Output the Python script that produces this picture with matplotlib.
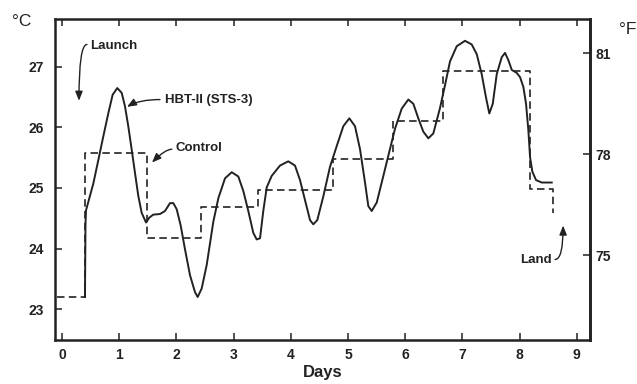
import matplotlib
matplotlib.use("Agg")
import matplotlib.pyplot as plt

# ---- data ----
hbt_days = [0.402, 0.411, 0.42, 0.547, 0.635, 0.722, 0.809, 0.886, 0.967, 1.044,
            1.101, 1.159, 1.219, 1.276, 1.334, 1.393, 1.469, 1.526, 1.596, 1.713,
            1.801, 1.888, 1.946, 2.005, 2.075, 2.150, 2.238, 2.325, 2.372, 2.442,
            2.530, 2.645, 2.733, 2.850, 2.967, 3.082, 3.170, 3.257, 3.344, 3.404,
            3.462, 3.519, 3.579, 3.666, 3.811, 3.956, 4.073, 4.161, 4.248, 4.336,
            4.393, 4.463, 4.568, 4.685, 4.802, 4.918, 5.023, 5.122, 5.210, 5.297,
            5.355, 5.414, 5.502, 5.589, 5.704, 5.822, 5.939, 6.054, 6.142, 6.229,
            6.316, 6.404, 6.491, 6.608, 6.696, 6.783, 6.900, 7.045, 7.162, 7.250,
            7.337, 7.413, 7.470, 7.530, 7.600, 7.687, 7.745, 7.803, 7.862, 7.949,
            8.007, 8.065, 8.112, 8.152, 8.182, 8.222, 8.287, 8.386, 8.561]
hbt_temp = [23.20, 24.40, 24.63, 25.07, 25.46, 25.85, 26.23, 26.54, 26.65, 26.57,
            26.35, 26.02, 25.63, 25.25, 24.87, 24.59, 24.43, 24.51, 24.56, 24.57,
            24.62, 24.75, 24.75, 24.65, 24.38, 23.99, 23.56, 23.28, 23.20, 23.34,
            23.73, 24.44, 24.83, 25.16, 25.26, 25.19, 24.95, 24.62, 24.26, 24.15,
            24.17, 24.62, 25.01, 25.20, 25.37, 25.44, 25.37, 25.13, 24.80, 24.47,
            24.40, 24.47, 24.86, 25.35, 25.69, 26.02, 26.15, 26.02, 25.64, 25.09,
            24.70, 24.62, 24.76, 25.09, 25.53, 25.98, 26.31, 26.46, 26.39, 26.15,
            25.93, 25.82, 25.90, 26.32, 26.70, 27.09, 27.34, 27.43, 27.37, 27.21,
            26.88, 26.49, 26.23, 26.39, 26.88, 27.16, 27.23, 27.11, 26.95, 26.90,
            26.83, 26.67, 26.39, 25.96, 25.51, 25.27, 25.13, 25.09, 25.09]

ctrl_days = [-0.08, 0.40, 0.40, 1.48, 1.48, 2.425, 2.425, 3.43, 3.43, 4.743,
             4.743, 5.79, 5.79, 6.655, 6.655, 8.18, 8.18, 8.59, 8.59]
ctrl_temp = [23.20, 23.20, 25.58, 25.58, 24.18, 24.18, 24.68, 24.68, 24.96, 24.96,
             25.48, 25.48, 26.10, 26.10, 26.93, 26.93, 24.99, 24.99, 24.58]

x_ticks = [0, 1, 2, 3, 4, 5, 6, 7, 8, 9]
c_ticks = [23, 24, 25, 26, 27]
f_ticks = [75, 78, 81]

INK = "#222222"
plt.rcParams['font.family'] = ['Liberation Sans', 'DejaVu Sans']

fig = plt.figure(figsize=(6.37, 3.84), dpi=100)
ax = fig.add_axes([55/637, 1 - 340/384, (590 - 55)/637, (340 - 19)/384])
ax.set_xlim(-0.122, 9.23)
ax.set_ylim(22.49, 27.79)

ax.plot(hbt_days, hbt_temp, color=INK, lw=1.4, solid_joinstyle='round')
ax.plot(ctrl_days, ctrl_temp, color=INK, lw=1.2, linestyle=(0, (4.5, 2.6)))

for s in ax.spines.values():
    s.set_linewidth(1.8)
    s.set_color(INK)

ax.set_xticks(x_ticks)
ax.set_yticks(c_ticks)
ax.tick_params(axis='x', direction='in', length=5, width=1.1, top=True,
               pad=6, labelsize=10, colors=INK)
ax.tick_params(axis='y', direction='in', length=5, width=1.1, pad=8,
               labelsize=10, colors=INK)
for lab in ax.get_xticklabels() + ax.get_yticklabels():
    lab.set_fontweight('bold')

sec = ax.secondary_yaxis('right', functions=(lambda c: c * 9 / 5 + 32,
                                             lambda f: (f - 32) * 5 / 9))
sec.set_yticks(f_ticks)
sec.tick_params(direction='in', length=5, width=1.1, pad=4, labelsize=10,
                colors=INK)
for lab in sec.get_yticklabels():
    lab.set_fontweight('bold')
sec.spines['right'].set_linewidth(1.8)

fig.text(22/637, 1 - 21/384, "°C", fontsize=12.5, ha='center', va='center', color=INK)
fig.text(628/637, 1 - 30/384, "°F", fontsize=12.5, ha='center', va='center', color=INK)
ax.set_xlabel("Days", fontsize=12, fontweight='bold', color=INK, labelpad=2)

tk = dict(fontsize=9.5, fontweight='bold', color=INK, va='center')
arr = dict(arrowstyle='-|>,head_length=0.55,head_width=0.22', color=INK, lw=1.0,
           shrinkA=0, shrinkB=0)

ax.text(0.49, 27.34, "Launch", ha='left', **tk)
ax.annotate('', xy=(0.297, 26.44), xytext=(0.437, 27.37),
            arrowprops=dict(connectionstyle="angle3,angleA=0,angleB=90", **arr))

ax.text(1.80, 26.46, "HBT-II (STS-3)", ha='left', **tk)
ax.annotate('', xy=(1.136, 26.34), xytext=(1.713, 26.46),
            arrowprops=dict(connectionstyle="angle3,angleA=0,angleB=30", **arr))

ax.text(1.976, 25.66, "Control", ha='left', **tk)
ax.annotate('', xy=(1.573, 25.42), xytext=(1.92, 25.64),
            arrowprops=dict(connectionstyle="angle3,angleA=0,angleB=45", **arr))

ax.text(8.566, 23.81, "Land", ha='right', **tk)
ax.annotate('', xy=(8.76, 24.38), xytext=(8.62, 23.82),
            arrowprops=dict(connectionstyle="angle3,angleA=0,angleB=90", **arr))

fig.savefig("out.png", dpi=100)
